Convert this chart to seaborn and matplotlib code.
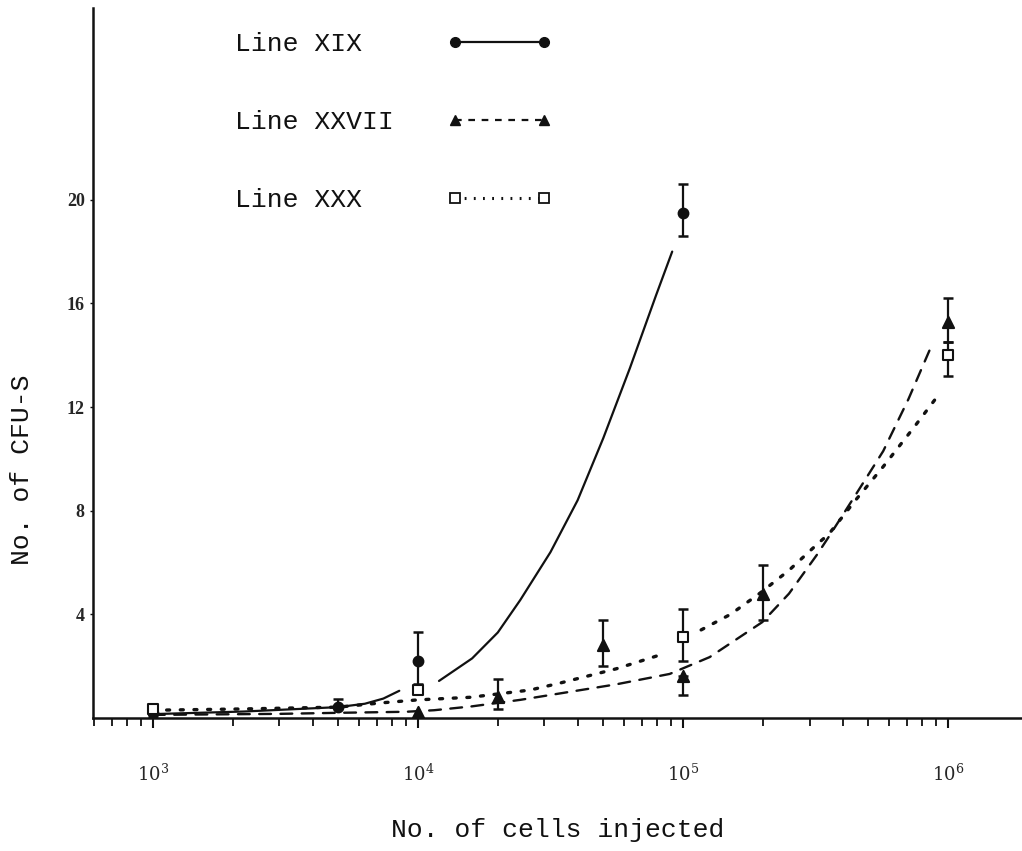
import numpy as np
import pandas as pd
import matplotlib
matplotlib.use("Agg")
import matplotlib.pyplot as plt
from matplotlib.lines import Line2D
from matplotlib.ticker import LogLocator, FixedLocator, NullFormatter
import seaborn as sns

# ---- measured colony counts (mean CFU-S per spleen) ----
xix_cells = [1e3, 5e3, 1e4, 1e5]
xix_cfu = [0.2, 0.42, 2.2, 19.5]
xix_err_hi = [0.0, 0.33, 1.1, 1.1]
xix_err_lo = [0.0, 0.0, 0.9, 0.9]

xxvii_cells = [1e3, 1e4, 2e4, 5e4, 1e5, 2e5, 1e6]
xxvii_cfu = [0.12, 0.23, 0.8, 2.8, 1.62, 4.8, 15.3]
xxvii_err_hi = [0.0, 0.0, 0.7, 1.0, 0.0, 1.1, 0.9]
xxvii_err_lo = [0.0, 0.0, 0.45, 0.8, 0.72, 1.0, 0.8]

xxx_cells = [1e3, 1e4, 1e5, 1e6]
xxx_cfu = [0.35, 1.08, 3.13, 14.0]
xxx_err_hi = [0.0, 0.0, 1.07, 0.5]
xxx_err_lo = [0.0, 0.0, 0.93, 0.8]

# ---- hand-fitted curves through each line (NaN breaks the stroke) ----
xix_fit_cells = [1000, 2200, 5000, 6300, 7400, 8500, np.nan,
                 12000, 16000, 20000, 24300, 31600, 40000, 50000, 63000, 79000, 91000]
xix_fit_cfu = [0.15, 0.25, 0.42, 0.55, 0.75, 1.05, np.nan,
               1.43, 2.3, 3.3, 4.55, 6.4, 8.4, 10.8, 13.5, 16.3, 18.0]

xxvii_fit_cells = [1000, 3000, 5000, 9000, 11500, 16000, 24300, 34400, 56000, 89000,
                   126000, 199000, 251000, 320000, 355000, 447000, 569000, 708000, 877000]
xxvii_fit_cfu = [0.12, 0.16, 0.2, 0.24, 0.3, 0.45, 0.7, 0.95, 1.3, 1.7,
                 2.35, 3.7, 4.8, 6.3, 7.0, 8.6, 10.3, 12.3, 14.5]

xxx_fit_cells = [1000, 2200, 5000, 7200, 10000, 15800, 26500, 34400, 56000, 84000, np.nan,
                 117000, 151000, 194000, 251000, 324000, 355000, 447000, 569000, 741000, 933000]
xxx_fit_cfu = [0.3, 0.35, 0.42, 0.58, 0.7, 0.8, 1.08, 1.35, 1.9, 2.47, np.nan,
               3.4, 4.0, 4.8, 5.7, 6.75, 7.1, 8.4, 9.7, 11.2, 12.55]

line_names = ["Line XIX", "Line XXVII", "Line XXX"]
y_ticks = [4, 8, 12, 16, 20]
x_decades = [3, 4, 5, 6]

sns.set_theme(style="white")
plt.rcParams["font.family"] = ["Liberation Mono", "DejaVu Sans"]
plt.rcParams["mathtext.fontset"] = "dejavuserif"

fig = plt.figure(figsize=(10.22, 8.51), dpi=100)
ax = fig.add_axes([93 / 1022, 1 - 718 / 851, 1 - 93 / 1022, (718 - 8) / 851])

ink = "#111111"
fit_styles = {
    "Line XIX": dict(dashes=None, lw=1.6),
    "Line XXVII": dict(dashes=(5, 4), lw=1.7),
    "Line XXX": dict(dashes=(0.9, 3.2), lw=2.4),
}

fits = [
    ("Line XIX", xix_fit_cells, xix_fit_cfu),
    ("Line XXVII", xxvii_fit_cells, xxvii_fit_cfu),
    ("Line XXX", xxx_fit_cells, xxx_fit_cfu),
]
for name, cx, cy in fits:
    df = pd.DataFrame({"cells": cx, "cfu": cy})
    valid = df["cells"].notna()
    piece = (~valid).cumsum()
    st = fit_styles[name]
    for _, part in df[valid].groupby(piece[valid]):
        sns.lineplot(data=part, x="cells", y="cfu", ax=ax, color=ink,
                     lw=st["lw"], sort=False, estimator=None, legend=False)
        line = ax.lines[-1]
        if st["dashes"] is not None:
            line.set_dashes(st["dashes"])
            line.set_dash_capstyle("round")

points = [
    ("Line XIX", xix_cells, xix_cfu, xix_err_lo, xix_err_hi, "o", ink, 7),
    ("Line XXVII", xxvii_cells, xxvii_cfu, xxvii_err_lo, xxvii_err_hi, "^", ink, 8),
    ("Line XXX", xxx_cells, xxx_cfu, xxx_err_lo, xxx_err_hi, "s", "white", 7.5),
]
for name, px, py, lo, hi, mk, face, ms in points:
    px = np.asarray(px); py = np.asarray(py)
    lo = np.asarray(lo); hi = np.asarray(hi)
    has = (lo > 0) | (hi > 0)
    if has.any():
        ax.errorbar(px[has], py[has], yerr=[lo[has], hi[has]], fmt="none",
                    ecolor=ink, elinewidth=1.6, capsize=3.5, capthick=1.8, zorder=3)
    sns.scatterplot(x=px, y=py, ax=ax, marker=mk, s=ms ** 2, color=face,
                    edgecolor=ink, linewidth=1.5, zorder=4, legend=False)

ax.set_xscale("log")
ax.set_xlim(594, 1.9e6)
ax.set_ylim(0, 27.4)

ax.xaxis.set_major_locator(FixedLocator([10.0 ** d for d in x_decades]))
ax.set_xticklabels([f"$10^{{{d}}}$" for d in x_decades], fontsize=13)
ax.xaxis.set_minor_locator(LogLocator(base=10, subs=np.arange(2, 10), numticks=20))
ax.xaxis.set_minor_formatter(NullFormatter())
ax.tick_params(axis="x", which="major", direction="out", length=7, width=1.5,
               color=ink, pad=26, bottom=True)
ax.tick_params(axis="x", which="minor", direction="out", length=6, width=1.3,
               color=ink, bottom=True)

ax.set_yticks(y_ticks)
ax.set_yticklabels([str(v) for v in y_ticks], fontsize=13, fontweight="bold",
                   family=["Liberation Serif"])
ax.tick_params(axis="y", direction="out", length=2, width=1.0, color=ink,
               pad=4, left=True)

for side in ["top", "right"]:
    ax.spines[side].set_visible(False)
for side in ["left", "bottom"]:
    ax.spines[side].set_color(ink)
    ax.spines[side].set_linewidth(1.8)

ax.set_xlabel("No. of cells injected", fontsize=19, color=ink, labelpad=24)
ax.set_ylabel("No. of CFU-S", fontsize=19, color=ink)
ax.yaxis.set_label_coords(-0.064, (718 - 470) / 710)

# equal-width labels keep the monospaced legend text left-aligned
legend_labels = [n.ljust(10, "\u00a0") for n in line_names]
handles = [
    Line2D([], [], color=ink, lw=1.6, ls="-", marker="o", ms=7),
    Line2D([], [], color=ink, lw=1.6, ls=(0, (3, 3)), marker="^", ms=7),
    Line2D([], [], color=ink, lw=2.2, ls=(0, (0.6, 2.4)), marker="s", ms=7,
           mfc="white", mew=1.3),
]
leg = fig.legend(handles, legend_labels, loc="upper left",
                 bbox_to_anchor=(222 / 1022, 1 - 19 / 851), frameon=False,
                 numpoints=2, markerfirst=False, handlelength=4.0,
                 handletextpad=2.0, labelspacing=2.05, borderpad=0,
                 fontsize=19)
for t in leg.get_texts():
    t.set_color(ink)

fig.savefig("out.png", dpi=100, facecolor="white")
